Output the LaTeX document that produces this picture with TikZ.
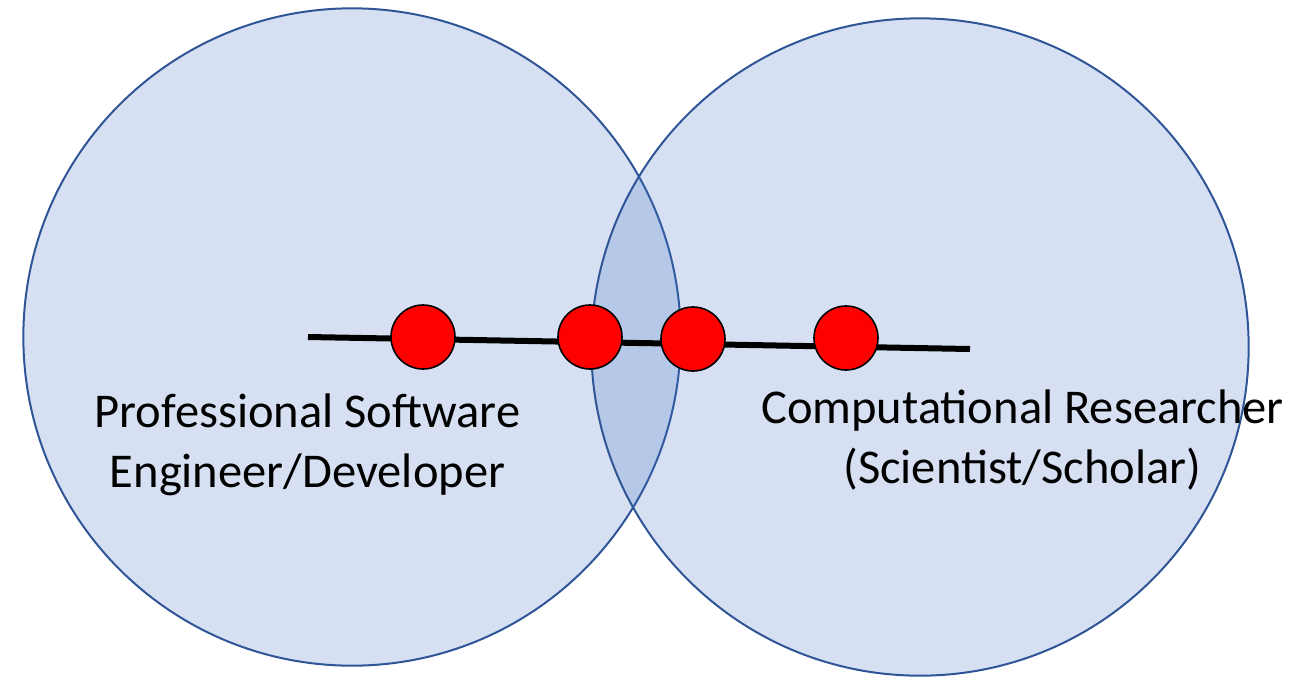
\documentclass[tikz,border=0pt]{standalone}
\usepackage{fontspec}
\setmainfont{Carlito}
\definecolor{setfill}{HTML}{4472C4}
\definecolor{setline}{HTML}{2F5597}
\begin{document}
\begin{tikzpicture}
      [
      x=0.75pt,y=-0.75pt,
      set/.style={circle,draw=setline,line width=1.5pt,fill=setfill,fill opacity=0.22,draw opacity=1,inner sep=0pt,minimum size=493pt},
      point/.style={circle,draw=black,line width=1.2pt,fill=red,inner sep=0pt,minimum size=48pt},
      role/.style={align=center,font=\fontsize{36.4pt}{44.3pt}\selectfont,anchor=base}
      ]
      \useasboundingbox (0,0) rectangle (1289,676);
      \node (left) at (352,337) [set] {};
      \node (right) at (920,347) [set] {};
      \coordinate (start) at (308,337);
      \coordinate (end) at (970,349);
      \draw [line width=4.5pt] (start) -- (end);
      \node (1) at (423,337) [point] {};
      \node (2) at (590,337) [point] {};
      \node (3) at (693,339) [point] {};
      \node (4) at (846,338) [point] {};
      \node (dev) at (307.5,487) [role] {Professional Software\\Engineer/Developer};
      \node (res) at (1022.5,483) [role] {Computational Researcher\\(Scientist/Scholar)};
    \end{tikzpicture}
\end{document}
